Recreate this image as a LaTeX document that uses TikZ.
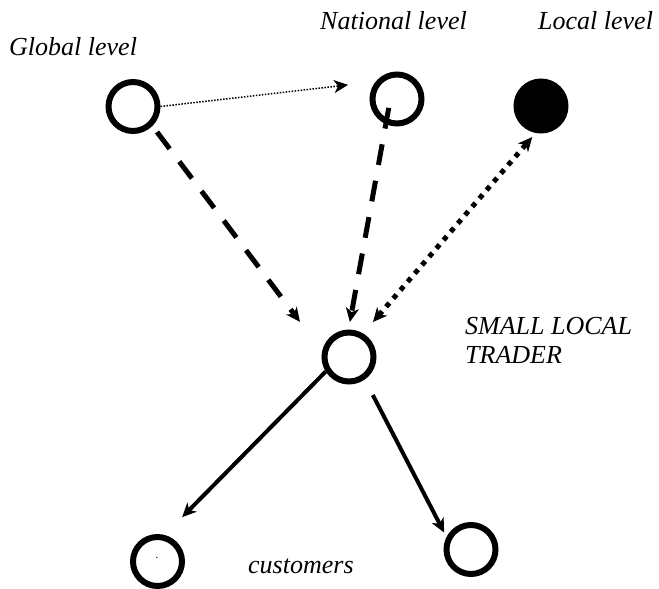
\documentclass[tikz,border=0pt]{standalone}
\usepackage{fontspec}
\setmainfont{Liberation Serif}
\usetikzlibrary{arrows.meta}
\begin{document}
\begin{tikzpicture}[x=1pt,y=-1pt,
  lvl/.style={circle,draw=black,line width=6pt,minimum size=49pt,inner sep=0pt},
  lbl/.style={font=\fontsize{26}{29}\selectfont\itshape,inner sep=0pt,anchor=base west},
  tipend/.style={-{Stealth[length=14pt,width=13pt,inset=4pt]}},
  tipboth/.style={{Stealth[length=14pt,width=13pt,inset=4pt]}-{Stealth[length=14pt,width=13pt,inset=4pt]}},
  thindot/.style={line width=1.5pt,dash pattern=on 1.5pt off 1.5pt},
  bigdash/.style={line width=5pt,dash pattern=on 21pt off 16pt},
  bigdot/.style={line width=5pt,dash pattern=on 5pt off 6pt},
  solidline/.style={line width=4pt}
]
\useasboundingbox (0,0) rectangle (659,589);

% circles
\node[lvl] (G) at (133,106.5) {};
\node[lvl] (N) at (397,99) {};
\node[lvl,fill=black] (L) at (541,106) {};
\node[lvl] (T) at (349,357) {};
\node[lvl] (BL) at (157.5,561.5) {};
\node[lvl] (BR) at (471,549.5) {};
\fill (156.8,557.3) circle (0.7pt);

% labels
\node[lbl] (tG) at (9,55) {Global level};
\node[lbl] (tN) at (320,29) {National level};
\node[lbl] (tL) at (538,29) {Local level};
\node[font=\fontsize{26}{29}\selectfont\itshape,inner sep=0pt,anchor=north west,align=left] (tT) at (465,317) {SMALL LOCAL\\TRADER};
\node[lbl] (tC) at (248,573) {customers};

% connectors
\draw[thindot,tipend,shorten >=27.8pt] (G.east) -- (N.141);
\draw[bigdash,tipend,shorten <=7.6pt,shorten >=36.8pt] (G.-45) -- (T.168);
\draw[bigdash,tipend,shorten <=-16.5pt,shorten >=7.6pt] (N.-114) -- (T.91);
\draw[bigdot,tipboth,shorten <=15pt,shorten >=5.4pt] (T.59) -- (L.-101);
\draw[solidline,tipend,shorten >=25pt] (T.212) -- (BL.75);
\draw[solidline,tipend,shorten <=17.5pt,shorten >=5pt] (T.-55) -- (BR.153);
\end{tikzpicture}
\end{document}
